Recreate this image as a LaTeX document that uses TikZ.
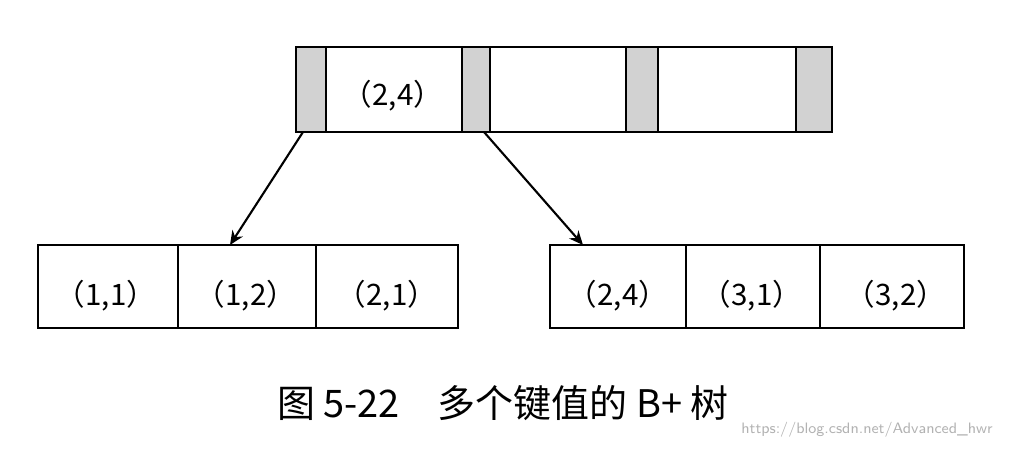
\documentclass[tikz,border=0pt]{standalone}
\usepackage{fontspec}
\setmainfont{Liberation Serif}
\newfontfamily\cjk{Noto Sans CJK SC}
\tikzset{cell/.style={draw,line width=0.7pt},gcell/.style={draw,line width=0.7pt,fill=gray!35},
 lab/.style={font=\cjk\fontsize{8.4pt}{9pt}\selectfont,inner sep=0},
 arr/.style={-{Stealth[length=4pt,width=3.5pt]},line width=0.6pt}}
\usetikzlibrary{arrows.meta}
\begin{document}
\begin{tikzpicture}[x=0.01cm,y=-0.01cm]
\useasboundingbox (0,0) rectangle (1010,448);
\draw[gcell] (296,47) rectangle (326,132);
\draw[cell] (326,47) rectangle (462,132);
\draw[gcell] (462,47) rectangle (490,132);
\draw[cell] (490,47) rectangle (626,132);
\draw[gcell] (626,47) rectangle (658,132);
\draw[cell] (658,47) rectangle (796,132);
\draw[gcell] (796,47) rectangle (832,132);
\node[lab] (t) at (393,96) {（2,4）};
\coordinate (p1) at (303,132);
\coordinate (p2) at (484,132);
\node[cell,inner sep=0,minimum width=4.2cm,minimum height=0.83cm] (L) at (248,286.5) {};
\draw[line width=0.7pt] (178,245)--(178,328) (316,245)--(316,328);
\node[lab] at (106,296) {（1,1）};
\node[lab] at (246,296) {（1,2）};
\node[lab] at (387,296) {（2,1）};
\node[cell,inner sep=0,minimum width=4.14cm,minimum height=0.83cm] (R) at (757,286.5) {};
\draw[line width=0.7pt] (686,245)--(686,328) (820,245)--(820,328);
\node[lab] at (618,296) {（2,4）};
\node[lab] at (752,296) {（3,1）};
\node[lab] at (896,296) {（3,2）};
\draw[arr] (p1) -- (230,245);
\draw[arr] (p2) -- (583,245);
\node[font=\cjk\fontsize{10.8pt}{12pt}\selectfont] (cap) at (503,403) {图 5-22\quad 多个键值的 B+ 树};
\node[font=\fontsize{4.3pt}{5pt}\selectfont\sffamily,text=gray!60,anchor=east] (wm) at (1005,430) {https://blog.csdn.net/Advanced\_hwr};
\end{tikzpicture}
\end{document}
